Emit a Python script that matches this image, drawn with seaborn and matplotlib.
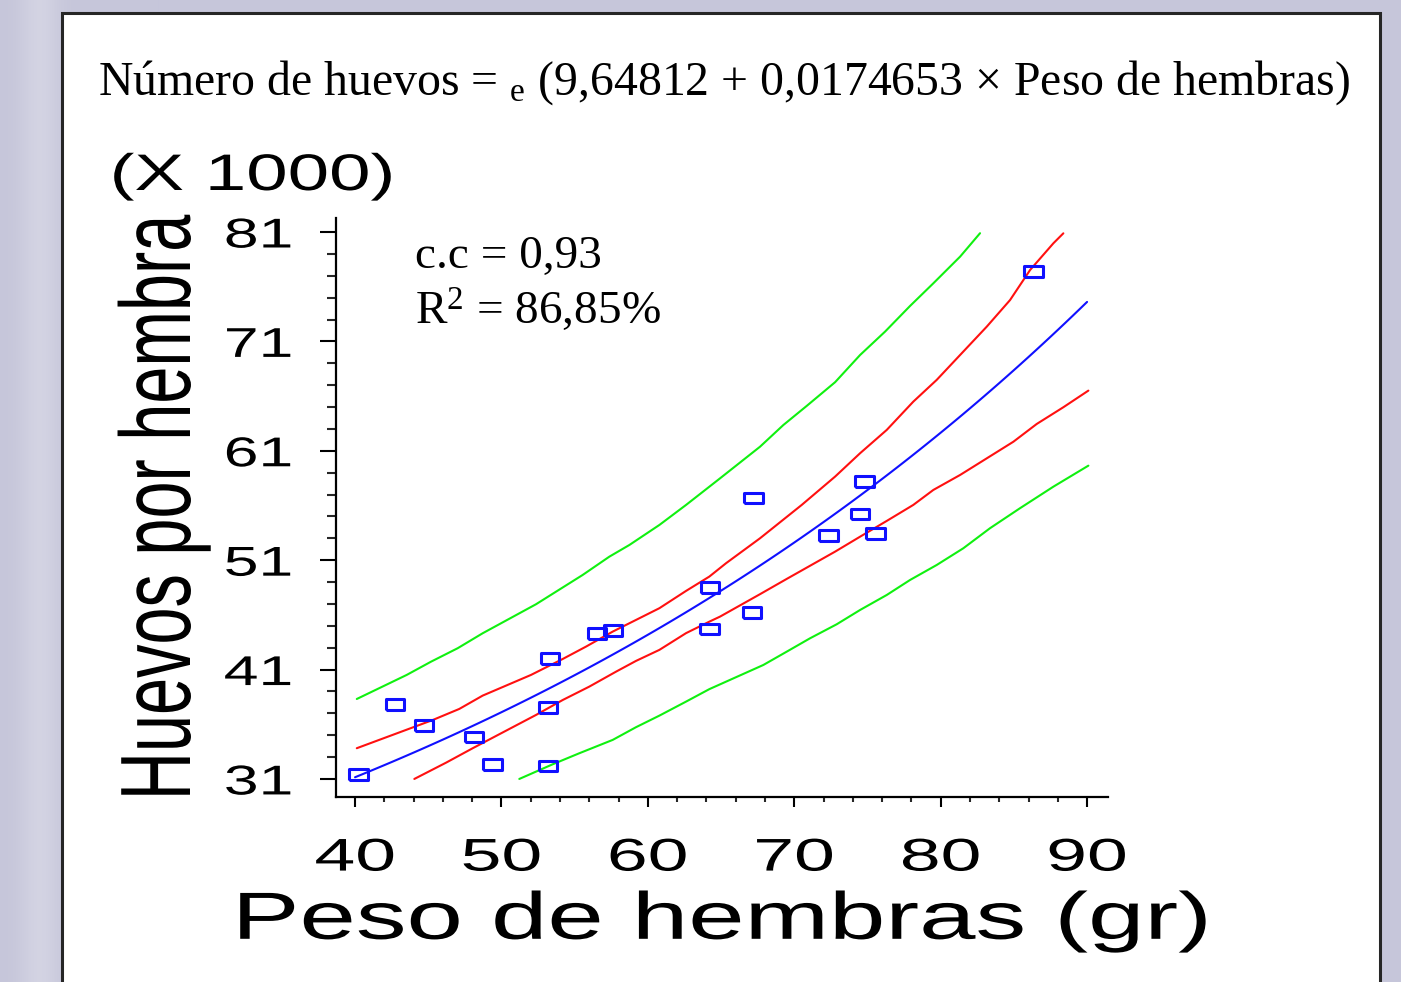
import numpy as np
import pandas as pd
import matplotlib
matplotlib.use("Agg")
import matplotlib.pyplot as plt
import seaborn as sns
from matplotlib.patches import Rectangle
from matplotlib.patheffects import AbstractPathEffect
from matplotlib.ticker import FixedLocator, MultipleLocator
from matplotlib.transforms import Affine2D

# Observed females: body weight (g) and eggs per female (thousands)
peso = [40.23, 42.75, 44.71, 48.13, 49.38, 53.18, 53.30, 53.16, 56.51, 57.64,
        64.25, 64.20, 67.10, 67.21, 72.33, 74.47, 74.81, 75.54, 86.33]
huevos = [31.43, 37.83, 35.88, 34.84, 32.31, 32.19, 42.04, 37.56, 44.27, 44.57,
          48.50, 44.72, 46.21, 56.68, 53.26, 55.22, 58.20, 53.41, 77.36]

# Fitted exponential model: eggs = exp(b0 + b1 * weight)
b0 = 9.64812
b1 = 0.0174653
fit_x = np.linspace(40, 90, 101)

# Confidence limits for the mean (red)
conf_up_x = [40.12, 43.48, 45.31, 47.12, 48.72, 52.02, 54.19, 55.78, 57.60, 60.79,
             62.61, 64.20, 65.34, 67.66, 70.51, 72.79, 74.50, 76.32, 78.13, 79.73,
             81.33, 83.15, 84.74, 86.11, 87.70, 88.38]
conf_up_y = [33.81, 35.48, 36.39, 37.40, 38.62, 40.51, 41.97, 43.10, 44.47, 46.61,
             48.19, 49.50, 50.72, 53.00, 56.05, 58.64, 60.78, 62.91, 65.49, 67.48,
             69.76, 72.35, 74.78, 77.53, 79.97, 80.88]
conf_lo_x = [44.05, 46.22, 48.04, 50.54, 52.36, 54.19, 56.00, 57.83, 59.19, 60.79,
             62.61, 64.20, 64.93, 67.66, 69.49, 72.79, 74.50, 76.32, 78.13, 79.50,
             81.33, 83.15, 84.97, 86.56, 88.38, 90.09]
conf_lo_y = [31.00, 32.49, 33.81, 35.57, 36.85, 38.22, 39.44, 40.81, 41.79, 42.80,
             44.33, 45.38, 45.84, 47.89, 49.29, 51.78, 53.15, 54.59, 56.05, 57.42,
             58.79, 60.31, 61.83, 63.45, 64.98, 66.50]

# Prediction limits (green)
pred_up_x = [40.12, 43.53, 45.19, 47.01, 48.72, 52.36, 55.55, 57.37, 58.74, 60.79,
             62.61, 64.93, 67.66, 69.26, 70.85, 72.79, 74.50, 76.20, 77.91, 79.50,
             81.33, 82.69]
pred_up_y = [38.31, 40.51, 41.72, 42.95, 44.32, 46.97, 49.65, 51.32, 52.39, 54.22,
             56.05, 58.48, 61.37, 63.36, 65.10, 67.27, 69.76, 71.89, 74.24, 76.31,
             78.75, 80.89]
pred_lo_x = [51.22, 53.50, 55.32, 57.60, 59.19, 60.79, 62.61, 64.20, 67.89, 69.49,
             71.08, 72.90, 74.50, 76.32, 77.91, 79.73, 81.55, 83.37, 85.42, 87.70,
             90.09]
pred_lo_y = [31.00, 32.34, 33.35, 34.57, 35.73, 36.79, 38.07, 39.21, 41.42, 42.64,
             43.86, 45.14, 46.45, 47.82, 49.19, 50.56, 52.09, 53.92, 55.75, 57.72,
             59.64]

x_ticks = [40, 50, 60, 70, 80, 90]
y_ticks = [31, 41, 51, 61, 71, 81]

title_txt = "Número de huevos = ${}_{\\mathrm{e}}$ (9,64812 + 0,0174653 × Peso de hembras)"
cc_txt = "c.c = 0,93"
r2_txt = "R$^{2}$ = 86,85%"
scale_txt = "(X 1000)"
x_label = "Peso de hembras (gr)"
y_label = "Huevos por hembra"


class Stretch(AbstractPathEffect):
    """Draw glyphs rescaled along (sx) and across (sy) the text direction."""

    def __init__(self, sx=1.0, anchor="center", sy=1.0):
        super().__init__()
        self.sx = sx
        self.sy = sy
        self.anchor = anchor

    def draw_path(self, renderer, gc, tpath, affine, rgbFace=None):
        ext = tpath.get_extents()
        if self.anchor == "left":
            x0 = ext.x0
        elif self.anchor == "right":
            x0 = ext.x1
        else:
            x0 = 0.5 * (ext.x0 + ext.x1)
        local = Affine2D().translate(-x0, 0).scale(self.sx, self.sy).translate(x0, 0)
        renderer.draw_path(gc, tpath, local + affine, rgbFace)


sns.set_theme(style="ticks")
plt.rcParams["font.family"] = ["Liberation Sans", "DejaVu Sans"]
plt.rcParams["mathtext.fontset"] = "custom"
plt.rcParams["mathtext.rm"] = "Liberation Serif"
plt.rcParams["mathtext.it"] = "Liberation Serif:italic"

W, H = 1401, 982
fig = plt.figure(figsize=(W / 100, H / 100), dpi=100)
fig.patch.set_facecolor("#c6c6da")

# soft lavender backdrop with a lighter vertical band on the left
bg = fig.add_axes([0, 0, 1, 1], zorder=-10)
xs = np.linspace(0, 1, W)
band = np.exp(-((xs - 0.028) / 0.014) ** 2) * 0.55
base = np.array([198, 198, 218]) / 255.0
light = np.array([222, 222, 234]) / 255.0
row = base[None, :] * (1 - band[:, None]) + light[None, :] * band[:, None]
bg.imshow(row[None, :, :], aspect="auto", extent=[0, 1, 0, 1])
bg.set_axis_off()

# white panel with dark border
fig.patches.append(Rectangle((62 / W, -0.02), (1380 - 62) / W, 1 - 13 / H + 0.02,
                             transform=fig.transFigure, facecolor="white",
                             edgecolor="#262626", linewidth=2.2, zorder=-5))

ax = fig.add_axes([336 / W, 1 - 797 / H, (1108 - 336) / W, (797 - 218) / H])
ax.set_facecolor("none")

line_kw = dict(estimator=None, sort=False, linewidth=1.5, ax=ax, legend=False)
sns.lineplot(x=pred_up_x, y=pred_up_y, color="#10f010", **line_kw)
sns.lineplot(x=pred_lo_x, y=pred_lo_y, color="#10f010", **line_kw)
sns.lineplot(x=conf_up_x, y=conf_up_y, color="#ff1010", **line_kw)
sns.lineplot(x=conf_lo_x, y=conf_lo_y, color="#ff1010", **line_kw)
sns.lineplot(x=fit_x, y=np.exp(b0 + b1 * fit_x) / 1000.0, color="#1010ff", **line_kw)

box = [(-1, -0.58), (1, -0.58), (1, 0.58), (-1, 0.58), (-1, -0.58)]
pts = pd.DataFrame({"peso": peso, "huevos": huevos})
sns.scatterplot(data=pts, x="peso", y="huevos", marker=box, s=175, ax=ax,
                color="#1010ff", linewidth=2.2, zorder=5, legend=False)
coll = ax.collections[-1]
coll.set_facecolor("none")
coll.set_edgecolor("#1010ff")

ax.set_xlim(38.7, 91.43)
ax.set_ylim(29.35, 82.28)
ax.xaxis.set_major_locator(FixedLocator(x_ticks))
ax.xaxis.set_minor_locator(MultipleLocator(2))
ax.yaxis.set_major_locator(FixedLocator(y_ticks))
ax.yaxis.set_minor_locator(MultipleLocator(2, offset=1))
ax.set_xticklabels([str(v) for v in x_ticks])
ax.set_yticklabels([str(v) for v in y_ticks])

for s in ["top", "right"]:
    ax.spines[s].set_visible(False)
for s in ["left", "bottom"]:
    ax.spines[s].set_linewidth(1.6)
    ax.spines[s].set_color("black")

ax.tick_params(axis="y", which="major", length=11.5, width=1.5, pad=20,
               labelsize=30, colors="black", direction="out")
ax.tick_params(axis="y", which="minor", length=6.5, width=1.5, direction="out")
ax.tick_params(axis="x", which="major", length=7.5, width=1.5, pad=21,
               labelsize=33, colors="black", direction="out")
ax.tick_params(axis="x", which="minor", length=3.8, width=1.5, direction="out")

for lbl in ax.get_yticklabels():
    lbl.set_path_effects([Stretch(1.5, "right")])
for lbl in ax.get_xticklabels():
    lbl.set_path_effects([Stretch(1.6, "center")])

ax.set_xlabel(x_label, fontsize=48, color="black")
ax.xaxis.set_label_coords(0.5, -0.162)
ax.xaxis.label.set_va("top")
ax.xaxis.label.set_path_effects([Stretch(1.52, "center")])

# tall, narrow lettering for the vertical label
ax.set_ylabel(y_label, fontsize=48, color="black")
ax.yaxis.set_label_coords(-0.171, 0.5)
ax.yaxis.label.set_path_effects([Stretch(1.0, "center", sy=1.5)])

fig.text(98 / W, 1 - 95 / H, title_txt, family="Liberation Serif", fontsize=34.4,
         ha="left", va="baseline", color="black")
sc = fig.text(111 / W, 1 - 190 / H, scale_txt, fontsize=37, ha="left",
              va="baseline", color="black")
sc.set_path_effects([Stretch(1.45, "left")])
fig.text(415 / W, 1 - 268 / H, cc_txt, family="Liberation Serif", fontsize=34,
         ha="left", va="baseline", color="black")
fig.text(415 / W, 1 - 325 / H, r2_txt, family="Liberation Serif", fontsize=34,
         ha="left", va="baseline", color="black")

fig.savefig("out.png", dpi=100, facecolor=fig.get_facecolor())
